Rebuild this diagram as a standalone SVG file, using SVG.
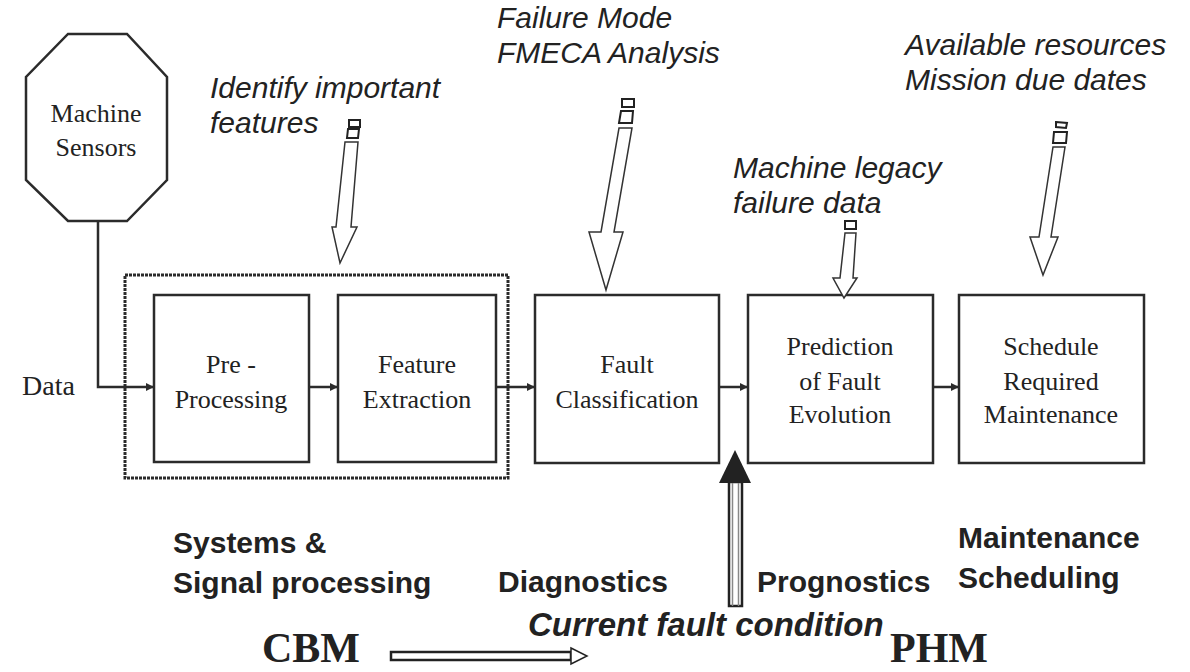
<svg xmlns="http://www.w3.org/2000/svg" width="1190" height="672" viewBox="0 0 1190 672">
<style>
.box{fill:#fff;stroke:#2b2b2b;stroke-width:2.5}
.ser{font-family:"Liberation Serif","Times New Roman",serif;font-size:26px;fill:#222;text-anchor:middle}
.ital{font-family:"Liberation Sans",Arial,sans-serif;font-size:30px;font-style:italic;fill:#222}
.bold{font-family:"Liberation Sans",Arial,sans-serif;font-size:30px;font-weight:bold;fill:#222}
.big{font-family:"Liberation Serif","Times New Roman",serif;font-size:42px;font-weight:bold;fill:#222}
.line{fill:none;stroke:#2b2b2b;stroke-width:2.5}
.hollow{fill:#fff;stroke:#333;stroke-width:1.5;stroke-linejoin:miter}
.sq{fill:#fff;stroke:#222;stroke-width:2}
</style>
<defs>
<marker id="ah" viewBox="0 0 10 10" refX="10" refY="5" markerWidth="8" markerHeight="8" markerUnits="userSpaceOnUse" orient="auto">
<path d="M0,0 L10,5 L0,10 z" fill="#2b2b2b"/>
</marker>
</defs>
<rect width="1190" height="672" fill="#fff"/>

<g id="sensors">
<polygon class="box" points="68,34 127,34 167,77 167,180 127,221 68,221 26,180 26,77"/>
<text class="ser" x="96" y="122">Machine</text>
<text class="ser" x="96" y="156">Sensors</text>
</g>

<g id="cbm-group">
<rect x="125" y="275" width="383" height="203" fill="none" stroke="#2b2b2b" stroke-width="3" stroke-dasharray="3 1"/>
</g>

<g id="preprocessing">
<rect class="box" x="154" y="295" width="155" height="167"/>
<text class="ser" x="231" y="373">Pre -</text>
<text class="ser" x="231" y="408">Processing</text>
</g>

<g id="feature-extraction">
<rect class="box" x="338" y="295" width="158" height="167"/>
<text class="ser" x="417" y="373">Feature</text>
<text class="ser" x="417" y="408">Extraction</text>
</g>

<g id="fault-classification">
<rect class="box" x="535" y="295" width="184" height="168"/>
<text class="ser" x="627" y="373">Fault</text>
<text class="ser" x="627" y="408">Classification</text>
</g>

<g id="prediction">
<rect class="box" x="748" y="295" width="185" height="168"/>
<text class="ser" x="840" y="355">Prediction</text>
<text class="ser" x="840" y="390">of Fault</text>
<text class="ser" x="840" y="423">Evolution</text>
</g>

<g id="schedule">
<rect class="box" x="959" y="295" width="185" height="168"/>
<text class="ser" x="1051" y="355">Schedule</text>
<text class="ser" x="1051" y="390">Required</text>
<text class="ser" x="1051" y="423">Maintenance</text>
</g>

<g id="connectors">
<polyline class="line" points="98,221 98,387 154,387" marker-end="url(#ah)"/>
<line class="line" x1="309" y1="387" x2="338" y2="387" marker-end="url(#ah)"/>
<line class="line" x1="496" y1="387" x2="535" y2="387" marker-end="url(#ah)"/>
<line class="line" x1="719" y1="387" x2="748" y2="387" marker-end="url(#ah)"/>
<line class="line" x1="933" y1="387" x2="959" y2="387" marker-end="url(#ah)"/>

<g id="arrow-features">
<rect class="sq" x="349" y="120" width="11" height="7"/>
<polygon class="sq" points="348,129 359,129 358,138 347,138"/>
<polygon class="hollow" points="345,142 358,142 351,227 357,227 340,263 332,227 336,227"/>
</g>
<g id="arrow-fmeca">
<rect class="sq" x="622" y="99" width="12" height="8"/>
<polygon class="sq" points="621,111 633,111 632,123 619,123"/>
<polygon class="hollow" points="619,128 632,128 614,232 623,232 606,290 589,232 601,232"/>
</g>
<g id="arrow-legacy">
<rect class="sq" x="845" y="221" width="11" height="8"/>
<polygon class="hollow" points="845,233 856,233 853,278 857,278 844,298 833,278 840,278"/>
</g>
<g id="arrow-resources">
<polygon class="sq" points="1056,122 1067,123 1066,128 1056,127"/>
<polygon class="sq" points="1054,132 1067,132 1066,143 1053,143"/>
<polygon class="hollow" points="1053,147 1065,147 1051,237 1058,237 1043,275 1030,237 1039,237"/>
</g>

<g id="arrow-current">
<rect x="729" y="482" width="13" height="124" fill="#fff" stroke="#222" stroke-width="2.5"/>
<line x1="732.5" y1="482" x2="732.5" y2="606" stroke="#888" stroke-width="1.5"/>
<line x1="738.5" y1="482" x2="738.5" y2="606" stroke="#888" stroke-width="1.5"/>
<polygon points="735,450 751,483 719,483" fill="#222"/>
</g>

<g id="arrow-cbm">
<rect x="391" y="652" width="180" height="8" fill="#fff" stroke="#222" stroke-width="2.5"/>
<polygon points="571,648 587,656 571,664" fill="#fff" stroke="#222" stroke-width="1.5"/>
</g>
</g>

<text class="ser" x="22" y="395" style="text-anchor:start;font-size:28px">Data</text>

<text class="ital" x="210" y="98">Identify important</text>
<text class="ital" x="210" y="133">features</text>
<text class="ital" x="497" y="28">Failure Mode</text>
<text class="ital" x="497" y="63">FMECA Analysis</text>
<text class="ital" x="733" y="178">Machine legacy</text>
<text class="ital" x="733" y="213">failure data</text>
<text class="ital" x="905" y="55">Available resources</text>
<text class="ital" x="905" y="90">Mission due dates</text>

<text class="bold" x="173" y="553">Systems &amp;</text>
<text class="bold" x="173" y="593">Signal processing</text>
<text class="bold" x="498" y="592">Diagnostics</text>
<text class="bold" x="757" y="592">Prognostics</text>
<text class="bold" x="958" y="548">Maintenance</text>
<text class="bold" x="958" y="588">Scheduling</text>
<text class="bold" x="528" y="636" style="font-style:italic;font-size:33px">Current fault condition</text>

<text class="big" x="262" y="662">CBM</text>
<text class="big" x="890" y="662">PHM</text>
</svg>
